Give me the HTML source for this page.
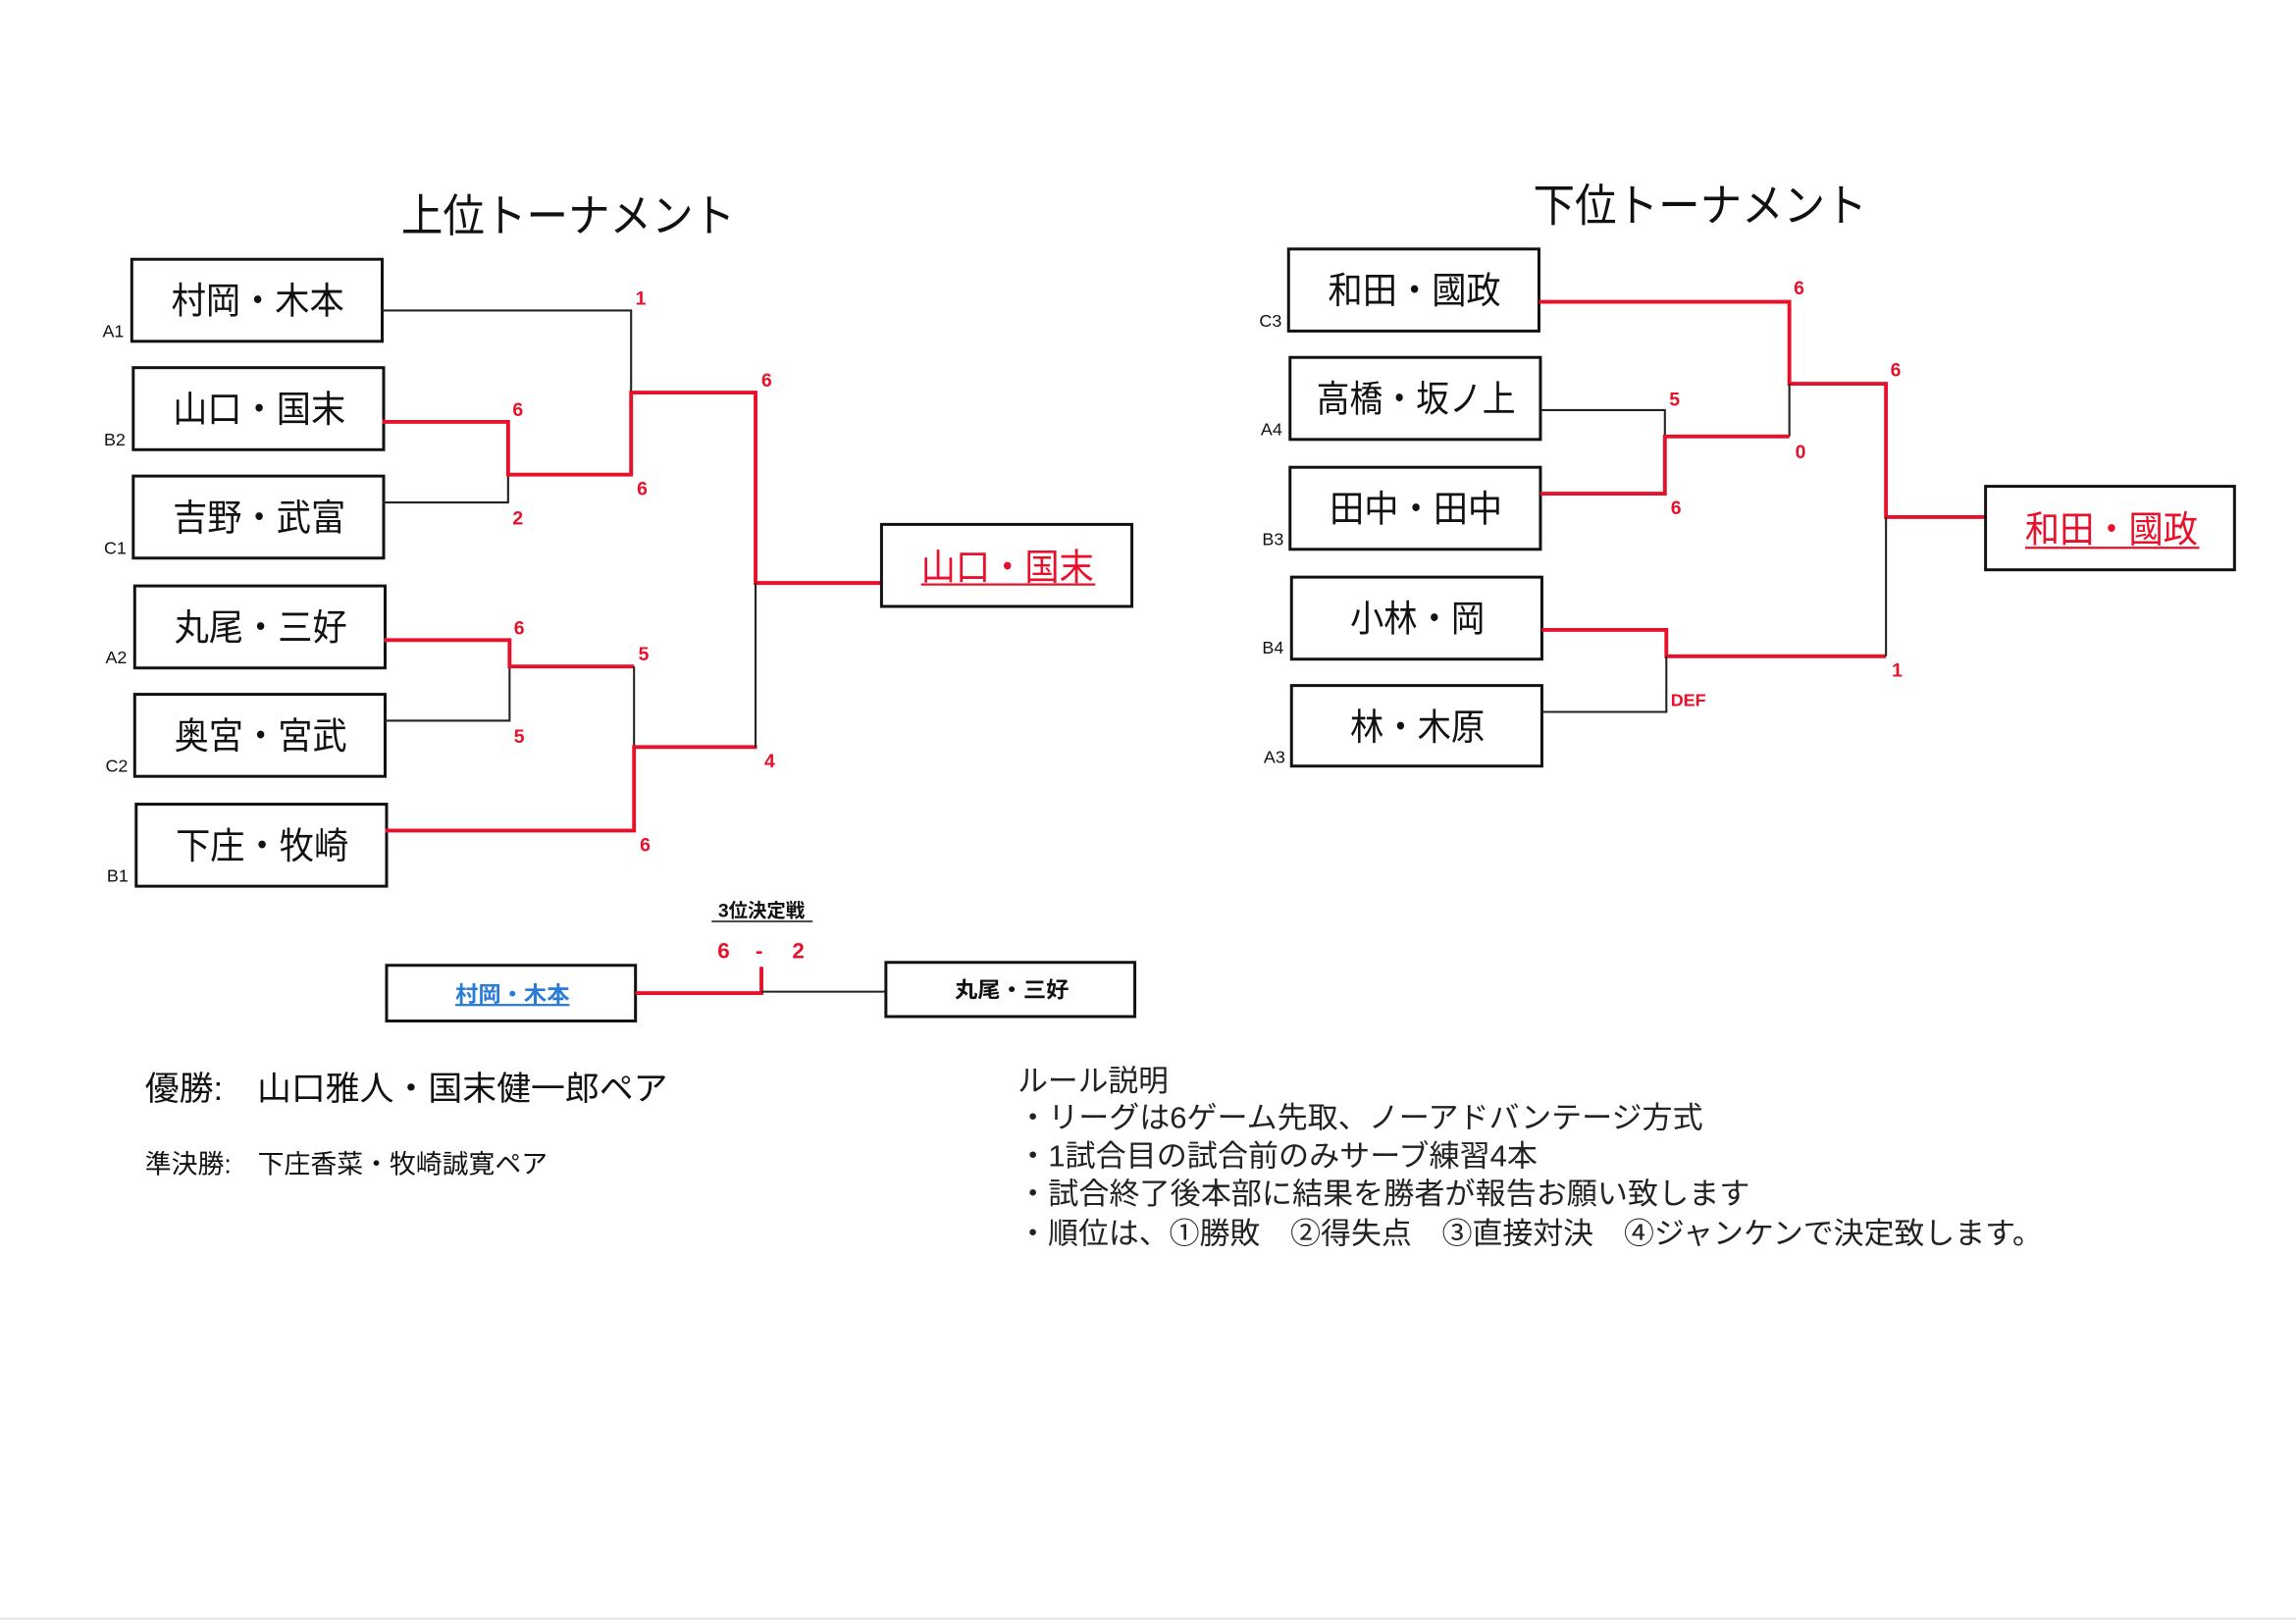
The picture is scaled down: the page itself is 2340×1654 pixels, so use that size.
<!DOCTYPE html>
<html><head><meta charset="utf-8"><style>
html,body{margin:0;padding:0;background:#fff;width:2340px;height:1654px;overflow:hidden}
svg{display:block}
text{font-family:"Liberation Sans","Noto Sans CJK JP",sans-serif}
.n{font-size:25px;fill:#111;text-anchor:middle}
.l{font-size:12px;fill:#111}
.s{font-size:13px;fill:#e8102a;font-weight:bold}
.b{fill:none;stroke:#111;stroke-width:2}
.k{fill:none;stroke:#222;stroke-width:1.4}
.r{fill:none;stroke:#e8102a;stroke-width:2.6}
</style></head><body>
<svg width="2340" height="1654" viewBox="0 0 1568 1108" preserveAspectRatio="none">
<text x="388" y="158" style="font-size:31px;text-anchor:middle" fill="#111" textLength="228" lengthAdjust="spacingAndGlyphs">上位トーナメント</text>
<text x="1161" y="151" style="font-size:31px;text-anchor:middle" fill="#111" textLength="228" lengthAdjust="spacingAndGlyphs">下位トーナメント</text>

<rect class="b" x="90" y="177" width="171" height="56"/><text class="n" x="176" y="214" textLength="118" lengthAdjust="spacingAndGlyphs">村岡・木本</text><text class="l" x="70" y="230">A1</text>
<rect class="b" x="91" y="251" width="171" height="56"/><text class="n" x="177" y="288" textLength="118" lengthAdjust="spacingAndGlyphs">山口・国末</text><text class="l" x="71" y="304">B2</text>
<rect class="b" x="91" y="325" width="171" height="56"/><text class="n" x="177" y="362" textLength="118" lengthAdjust="spacingAndGlyphs">吉野・武富</text><text class="l" x="71" y="378">C1</text>
<rect class="b" x="92" y="400" width="171" height="56"/><text class="n" x="178" y="437" textLength="118" lengthAdjust="spacingAndGlyphs">丸尾・三好</text><text class="l" x="72" y="453">A2</text>
<rect class="b" x="92" y="474" width="171" height="56"/><text class="n" x="178" y="511" textLength="118" lengthAdjust="spacingAndGlyphs">奥宮・宮武</text><text class="l" x="72" y="527">C2</text>
<rect class="b" x="93" y="549" width="171" height="56"/><text class="n" x="179" y="586" textLength="118" lengthAdjust="spacingAndGlyphs">下庄・牧崎</text><text class="l" x="73" y="602">B1</text>

<path class="k" d="M261 212H431V268"/>
<path class="k" d="M261 343H347V324"/>
<path class="r" d="M261 288H347V324H431V268H516V398H602"/>
<path class="k" d="M263 492H348V455"/>
<path class="r" d="M262 437H348V455H433"/>
<path class="k" d="M433 455V510"/>
<path class="r" d="M263 567H433V510H517"/>
<path class="k" d="M516 398V510"/>
<text class="s" x="434" y="208">1</text><text class="s" x="350" y="284">6</text><text class="s" x="350" y="358">2</text>
<text class="s" x="435" y="338">6</text><text class="s" x="520" y="264">6</text>
<text class="s" x="351" y="433">6</text><text class="s" x="351" y="507">5</text>
<text class="s" x="436" y="451">5</text><text class="s" x="522" y="524">4</text><text class="s" x="437" y="581">6</text>

<rect class="b" x="602" y="358" width="171" height="56"/>
<text class="n" x="688" y="396" style="fill:#e8102a" textLength="118" lengthAdjust="spacingAndGlyphs">山口・国末</text>
<line x1="629" y1="399" x2="748" y2="399" stroke="#e8102a" stroke-width="1.5"/>

<text x="520" y="626" style="font-size:13px;font-weight:bold;text-anchor:middle" fill="#111">3位決定戦</text>
<line x1="486" y1="629" x2="555" y2="629" stroke="#111" stroke-width="1"/>
<text class="s" x="490" y="654" style="font-size:15px">6</text><text class="s" x="516" y="654" style="font-size:15px">-</text><text class="s" x="541" y="654" style="font-size:15px">2</text>
<rect class="b" x="264" y="659" width="170" height="38"/>
<text x="350" y="684" style="font-size:15px;text-anchor:middle;font-weight:bold;fill:#2a7ad8;text-decoration:underline" textLength="78" lengthAdjust="spacingAndGlyphs">村岡・木本</text>
<rect class="b" x="605" y="657" width="170" height="37"/>
<text x="691" y="681" style="font-size:15px;text-anchor:middle;font-weight:bold" fill="#111" textLength="78" lengthAdjust="spacingAndGlyphs">丸尾・三好</text>
<path class="r" d="M434 678H520V660"/>
<path class="k" d="M520 677H605"/>

<rect class="b" x="880" y="170" width="171" height="56"/><text class="n" x="966" y="207" textLength="118" lengthAdjust="spacingAndGlyphs">和田・國政</text><text class="l" x="860" y="223">C3</text>
<rect class="b" x="881" y="244" width="171" height="56"/><text class="n" x="967" y="281" textLength="136" lengthAdjust="spacingAndGlyphs">高橋・坂ノ上</text><text class="l" x="861" y="297">A4</text>
<rect class="b" x="881" y="319" width="171" height="56"/><text class="n" x="967" y="356" textLength="118" lengthAdjust="spacingAndGlyphs">田中・田中</text><text class="l" x="862" y="372">B3</text>
<rect class="b" x="882" y="394" width="171" height="56"/><text class="n" x="968" y="431" textLength="92" lengthAdjust="spacingAndGlyphs">小林・岡</text><text class="l" x="862" y="446">B4</text>
<rect class="b" x="882" y="468" width="171" height="55"/><text class="n" x="968" y="505" textLength="92" lengthAdjust="spacingAndGlyphs">林・木原</text><text class="l" x="863" y="521">A3</text>

<path class="r" d="M1051 206H1222V262H1288V353H1356"/>
<path class="k" d="M1222 262V298"/>
<path class="k" d="M1052 280H1137V298"/>
<path class="r" d="M1052 337H1137V298H1222"/>
<path class="r" d="M1053 430H1138V448H1288"/>
<path class="k" d="M1053 486H1138V448"/>
<path class="k" d="M1288 353V448"/>
<text class="s" x="1225" y="201">6</text><text class="s" x="1140" y="277">5</text><text class="s" x="1226" y="313">0</text>
<text class="s" x="1141" y="351">6</text><text class="s" x="1291" y="257">6</text>
<text class="s" x="1141" y="482" style="font-size:12px">DEF</text><text class="s" x="1292" y="462">1</text>

<rect class="b" x="1356" y="332" width="170" height="57"/>
<text class="n" x="1442" y="370" style="fill:#e8102a" textLength="118" lengthAdjust="spacingAndGlyphs">和田・國政</text>
<line x1="1383" y1="374" x2="1502" y2="374" stroke="#e8102a" stroke-width="1.5"/>

<text x="99" y="751" style="font-size:23px" fill="#111" textLength="357" lengthAdjust="spacingAndGlyphs">優勝:　山口雅人・国末健一郎ペア</text>
<text x="99" y="801" style="font-size:18px" fill="#111" textLength="275" lengthAdjust="spacingAndGlyphs">準決勝:　下庄香菜・牧崎誠寛ペア</text>
<g style="font-size:20.5px" fill="#222">
<text x="695" y="745" textLength="103" lengthAdjust="spacingAndGlyphs">ルール説明</text>
<text x="695" y="770" textLength="468" lengthAdjust="spacingAndGlyphs">・リーグは6ゲーム先取、ノーアドバンテージ方式</text>
<text x="695" y="796" textLength="355" lengthAdjust="spacingAndGlyphs">・1試合目の試合前のみサーブ練習4本</text>
<text x="695" y="822" textLength="500" lengthAdjust="spacingAndGlyphs">・試合終了後本部に結果を勝者が報告お願い致します</text>
<text x="695" y="849" textLength="700" lengthAdjust="spacingAndGlyphs">・順位は、①勝敗　②得失点　③直接対決　④ジャンケンで決定致します。</text>
</g>
<line x1="0" y1="1105" x2="1568" y2="1105" stroke="#ddd" stroke-width="1"/>
</svg>
</body></html>
